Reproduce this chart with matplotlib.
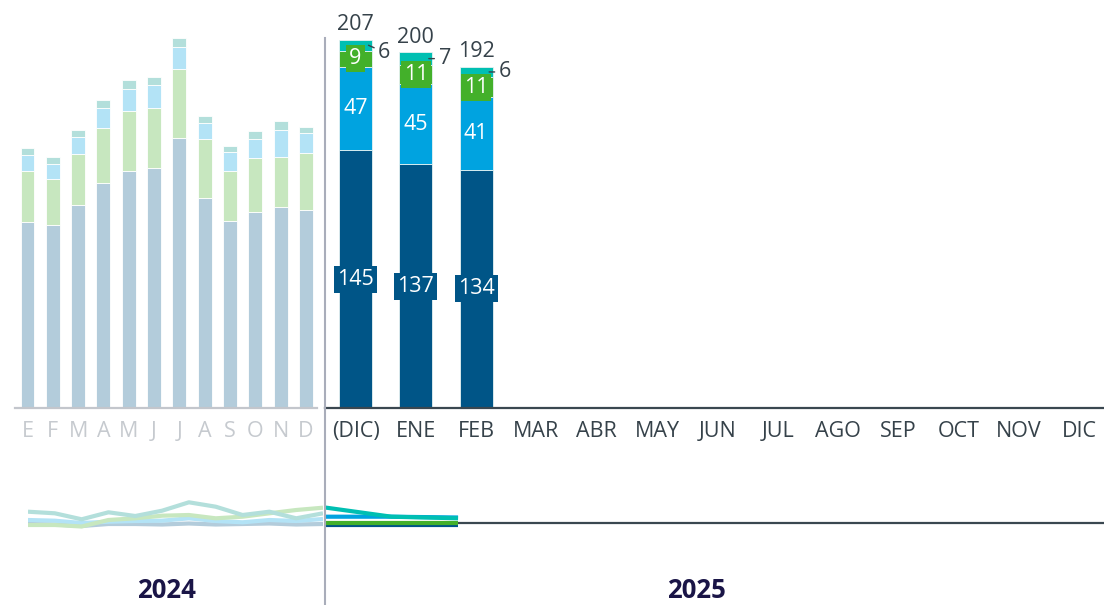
import matplotlib
matplotlib.use("Agg")
import matplotlib.pyplot as plt
from matplotlib.lines import Line2D
import numpy as np

plt.rcParams['font.family'] = ['Open Sans', 'DejaVu Sans']

# ---------------- data ----------------
months_2024 = ["E", "F", "M", "A", "M", "J", "J", "A", "S", "O", "N", "D"]
months_2025 = ["(DIC)", "ENE", "FEB", "MAR", "ABR", "MAY", "JUN", "JUL", "AGO",
               "SEP", "OCT", "NOV", "DIC"]

# 2024 stacked values (estimated)
dark_2024  = [104.6, 102.9, 114.2, 126.6, 133.3, 135.2, 152.0, 118.3, 105.2, 110.4, 113.2, 111.4]
green_2024 = [28.7, 26.0, 28.7, 30.9, 33.6, 33.7, 38.5, 32.8, 28.3, 30.2, 28.0, 31.9]
blue_2024  = [8.8, 8.4, 9.4, 11.1, 12.4, 12.6, 12.7, 9.0, 10.3, 10.9, 15.2, 11.2]
teal_2024  = [4.1, 3.8, 4.1, 4.7, 5.1, 4.5, 4.9, 3.9, 3.7, 4.2, 5.1, 3.5]

# 2025 stacked values
dark_2025  = [145, 137, 134]
blue_2025  = [47, 45, 41]
green_2025 = [9, 11, 11]
teal_2025  = [6, 7, 6]
totals_2025 = [207, 200, 192]

# small trend lines (estimated, arbitrary units)
teal_line_2024  = [11.3, 9.7, 3.7, 10.7, 7.0, 12.3, 20.7, 16.3, 8.0, 11.3, 4.7, 9.7]
green_line_2024 = [-2.0, -2.0, -3.5, 3.0, 4.7, 7.3, 8.0, 4.7, 6.3, 9.7, 13.0, 15.3]
blue_line_2024  = [3.0, 2.3, 0.0, 1.3, 2.0, 2.3, 4.7, 2.0, 0.7, 3.0, 2.0, 4.0]
dark_line_2024  = [-1.0, -1.5, -3.0, -1.0, -1.0, -1.5, -0.5, -1.5, -1.0, -0.5, -1.5, -1.0]

teal_line_2025  = [15.5, 6.3, 4.7]
blue_line_2025  = [6.3, 6.3, 5.5]
green_line_2025 = [0.0, 0.0, 0.0]
dark_line_2025  = [-1.5, -1.5, -1.5]

# ---------------- styles ----------------
C_DARK = "#005587"
C_BLUE = "#00a3e0"
C_GREEN = "#43b02a"
C_TEAL = "#00bfb2"
TXT = "#36424a"
PALE_A = 0.3

def pale(c):
    r, g, b = matplotlib.colors.to_rgb(c)
    return (1 - PALE_A * (1 - r), 1 - PALE_A * (1 - g), 1 - PALE_A * (1 - b))

PALE_TEAL = "#b3dfdb"

W, H = 1104, 605
fig = plt.figure(figsize=(W / 100, H / 100), dpi=100)

def fx(px):
    return px / W

def fy(py):
    return 1 - py / H

base_y, top_y = 408, 30
ppu = 1.778
ymax = (base_y - top_y) / ppu
TFS = 15.5
TPAD = 9.5

# ---------------- left bar axes (2024) ----------------
axL = fig.add_axes([fx(15), fy(base_y), fx(317 - 15), (base_y - top_y) / H])
x24 = np.arange(len(months_2024))
bw = 0.55
bottom = np.zeros(len(x24))
for vals, col in [(dark_2024, pale(C_DARK)), (green_2024, pale(C_GREEN)),
                  (blue_2024, pale(C_BLUE)), (teal_2024, PALE_TEAL)]:
    axL.bar(x24, vals, bw, bottom=bottom, color=col, edgecolor="white", linewidth=0.6)
    bottom += np.array(vals)
axL.set_xlim(-0.494, 11.44)
axL.set_ylim(0, ymax)
axL.set_xticks(x24)
axL.set_xticklabels(months_2024, fontsize=TFS, color="#c6cacf")
axL.tick_params(axis="x", length=0, pad=TPAD)
axL.set_yticks([])
for s in ["top", "left", "right"]:
    axL.spines[s].set_visible(False)
axL.spines["bottom"].set_color("#c3c6cc")
axL.spines["bottom"].set_linewidth(1.6)
axL.patch.set_visible(False)

# ---------------- right bar axes (2025) ----------------
axR = fig.add_axes([fx(325), fy(base_y), fx(1104 - 325), (base_y - top_y) / H])
x25 = np.arange(len(dark_2025))
bottom = np.zeros(len(x25))
segs = []
for vals, col in [(dark_2025, C_DARK), (blue_2025, C_BLUE),
                  (green_2025, C_GREEN), (teal_2025, C_TEAL)]:
    axR.bar(x25, vals, bw, bottom=bottom, color=col, edgecolor="#e6f2f2", linewidth=0.6)
    segs.append((np.array(vals), bottom.copy(), col))
    bottom += np.array(vals)
axR.set_xlim(-0.506, 12.41)
axR.set_ylim(0, ymax)
axR.set_xticks(np.arange(len(months_2025)))
axR.set_xticklabels(months_2025, fontsize=TFS, color=TXT)
axR.tick_params(axis="x", length=0, pad=TPAD)
axR.set_yticks([])
for s in ["top", "left", "right"]:
    axR.spines[s].set_visible(False)
axR.spines["bottom"].set_color("#3a4750")
axR.spines["bottom"].set_linewidth(1.6)
axR.patch.set_visible(False)

FS = 15.5
# dark labels with box
vals, bot, col = segs[0]
for i in range(len(x25)):
    axR.text(x25[i], bot[i] + vals[i] / 2, f"{vals[i]}", ha="center", va="center",
             fontsize=FS, color="white",
             bbox=dict(boxstyle="square,pad=0.14", fc=col, ec="none"))
# blue labels
vals, bot, col = segs[1]
for i in range(len(x25)):
    axR.text(x25[i], bot[i] + vals[i] / 2, f"{vals[i]}", ha="center", va="center",
             fontsize=FS, color="white")
# green labels with box
vals, bot, col = segs[2]
for i in range(len(x25)):
    axR.text(x25[i], bot[i] + vals[i] / 2, f"{vals[i]}", ha="center", va="center",
             fontsize=FS, color="white",
             bbox=dict(boxstyle="square,pad=0.14", fc=col, ec="none"))
# teal labels outside with leader
vals, bot, col = segs[3]
offsets = [(7, -5), (7, 0), (7, 0)]
for i in range(len(x25)):
    yc = bot[i] + vals[i] / 2
    axR.annotate(f"{vals[i]}", xy=(x25[i] + bw / 2 - 0.06, yc),
                 xytext=offsets[i], textcoords="offset points",
                 ha="left", va="center", fontsize=FS, color=TXT,
                 arrowprops=dict(arrowstyle="-", color=TXT, lw=1.0,
                                 shrinkA=1, shrinkB=0))
# totals
for i in range(len(x25)):
    axR.annotate(f"{totals_2025[i]}", xy=(x25[i], totals_2025[i]),
                 xytext=(0, 11), textcoords="offset points",
                 ha="center", va="center", fontsize=FS, color=TXT)

# ---------------- small line panels ----------------
lb, lt = 540, 490
lnL = fig.add_axes([fx(28), fy(lb), fx(323 - 28), (lb - lt) / H])
xl = np.arange(len(teal_line_2024))
LW = 3.0
for vals, col in [(dark_line_2024, pale(C_DARK)), (blue_line_2024, pale(C_BLUE)),
                  (green_line_2024, pale(C_GREEN)), (teal_line_2024, PALE_TEAL)]:
    lnL.plot(xl, vals, color=col, lw=LW, solid_capstyle="butt", solid_joinstyle="round")
lnL.set_xlim(0, 11)
lnL.set_ylim(-17, 33)
lnL.axis("off")

lnR = fig.add_axes([fx(325), fy(lb), fx(1104 - 325), (lb - lt) / H])
xr = np.arange(len(teal_line_2025))
lnR.axhline(0, color="#3a4750", lw=1.6, zorder=1)
for vals, col in [(dark_line_2025, C_DARK), (green_line_2025, C_GREEN),
                  (blue_line_2025, C_BLUE), (teal_line_2025, C_TEAL)]:
    lnR.plot(xr, vals, color=col, lw=LW, solid_capstyle="butt", solid_joinstyle="round", zorder=2)
lnR.set_xlim(0, 11.71)
lnR.set_ylim(-17, 33)
lnR.axis("off")

# divider
fig.add_artist(Line2D([fx(325), fx(325)], [fy(38), 0], color="#a9adba", lw=1.5))

# year labels
fig.text(fx(166), fy(590), "2024", ha="center", va="center", fontsize=18.5,
         fontweight="bold", color="#1a1547")
fig.text(fx(696), fy(590), "2025", ha="center", va="center", fontsize=18.5,
         fontweight="bold", color="#1a1547")

fig.savefig("out.png", dpi=100)
